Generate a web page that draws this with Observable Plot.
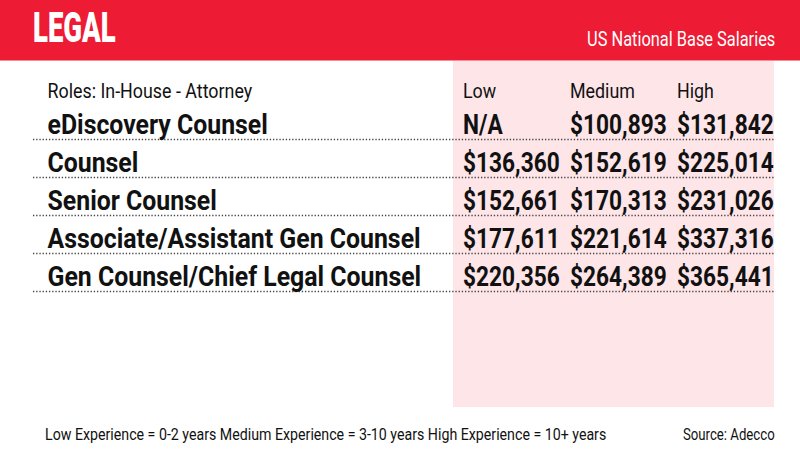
<!DOCTYPE html>
<html><head><meta charset="utf-8">
<script src="https://cdn.jsdelivr.net/npm/d3@7"></script>
<script src="https://cdn.jsdelivr.net/npm/@observablehq/plot@0.6"></script>
<style>
body{margin:0;width:800px;height:450px;overflow:hidden;background:#fff;font-family:Roboto,sans-serif;}
#banner{position:relative;height:60px;background:#ED1B33;border-bottom:1px solid #F48C97;}
#title{position:absolute;left:33px;top:2px;font-size:43px;font-weight:900;color:#fff;line-height:50px;transform:scaleX(.64);transform-origin:left;white-space:nowrap;}
#sub{position:absolute;right:25px;top:27px;font-size:21px;color:#fff;line-height:24px;transform:scaleX(.78);transform-origin:right;white-space:nowrap;}
#footer{position:relative;height:29px;font-size:16.5px;color:#111;}
#fl{position:absolute;left:45px;top:4px;line-height:19px;transform:scaleX(.86);transform-origin:left;white-space:nowrap;}
#fr{position:absolute;right:25px;top:4px;line-height:19px;transform:scaleX(.8);transform-origin:right;white-space:nowrap;}
</style></head><body>
<div id="banner"><span id="title"></span><span id="sub"></span></div>
<div id="chart"></div>
<div id="footer"><span id="fl"></span><span id="fr"></span></div>
<script>
const titleText = "LEGAL";
const subtitleText = "US National Base Salaries";
const rowHeader = "Roles: In-House - Attorney";
const roles = ["eDiscovery Counsel","Counsel","Senior Counsel","Associate/Assistant Gen Counsel","Gen Counsel/Chief Legal Counsel"];
const levels = ["Low","Medium","High"];
const low = [null,136360,152661,177611,220356];
const medium = [100893,152619,170313,221614,264389];
const high = [131842,225014,231026,337316,365441];
const footnote = "Low Experience = 0-2 years Medium Experience = 3-10 years High Experience = 10+ years";
const source = "Source: Adecco";

document.getElementById("title").textContent = titleText;
document.getElementById("sub").textContent = subtitleText;
document.getElementById("fl").textContent = footnote;
document.getElementById("fr").textContent = source;

const series = [low, medium, high];
const cells = roles.flatMap((r, i) => levels.map((l, j) => ({role: r, level: l, value: series[j][i]})));
const fmt = v => v == null ? "N/A" : "$" + d3.format(",")(v);

const chart = Plot.plot({
  width: 800, height: 360,
  marginLeft: 33, marginRight: 25, marginTop: 0, marginBottom: 14,
  x: {type: "band", domain: levels, range: [452, 774], padding: 0, axis: null},
  y: {type: "point", domain: roles, range: [70, 225], padding: 0, axis: null},
  style: {fontFamily: "Roboto, sans-serif", background: "transparent", color: "#111"},
  marks: [
    Plot.cell(levels, {x: d => d, fill: "#FDE5E8", shapeRendering: "crispEdges"}),
    Plot.ruleY(roles, {y: d => d, dy: 6, stroke: "#444", strokeWidth: 1.3, strokeDasharray: "1.3 1.9"}),
    Plot.text([rowHeader], {frameAnchor: "top-left", dx: 14, dy: 36, lineAnchor: "bottom", textAnchor: "start", fontSize: 21, fill: "#111"}),
    Plot.text(levels, {x: d => d, frameAnchor: "top", dy: 36, dx: -44, lineAnchor: "bottom", textAnchor: "start", fontSize: 21, fill: "#111"}),
    Plot.text(roles, {y: d => d, frameAnchor: "left", dx: 14, lineAnchor: "bottom", textAnchor: "start", fontSize: 27, fontWeight: "bold", fill: "#111"}),
    Plot.text(cells, {x: "level", y: "role", text: d => fmt(d.value), dx: -44, lineAnchor: "bottom", textAnchor: "start", fontSize: 27, fontWeight: "bold", fill: "#111"})
  ]
});
document.getElementById("chart").appendChild(chart);

// condense glyphs to mimic the condensed typeface (one factor per text mark, in mark order)
const squeeze = [0.85, 0.85, 0.92, 0.84];
d3.select(chart).selectAll('g[aria-label="text"]').each(function(_, gi) {
  const k = squeeze[gi];
  d3.select(this).selectAll("text").each(function() {
    const w = this.getComputedTextLength();
    this.setAttribute("textLength", w * k);
    this.setAttribute("lengthAdjust", "spacingAndGlyphs");
  });
});
</script>
</body></html>
